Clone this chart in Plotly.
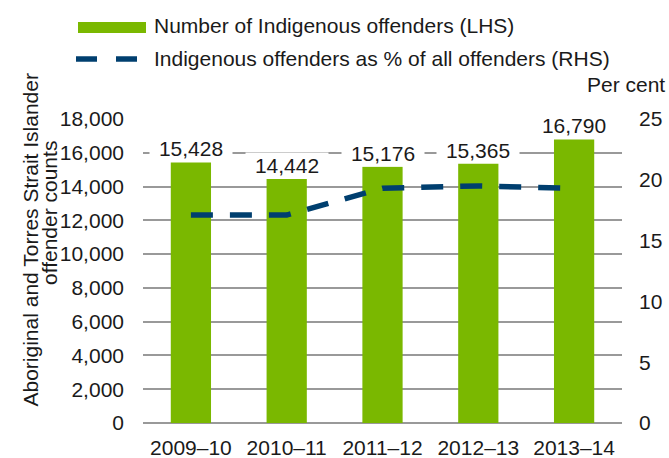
import plotly.graph_objects as go

# Data
years = ["2009–10", "2010–11", "2011–12", "2012–13", "2013–14"]
offenders = [15428, 14442, 15176, 15365, 16790]
pct_of_all = [17.1, 17.1, 19.3, 19.5, 19.3]
left_ticks = [0, 2000, 4000, 6000, 8000, 10000, 12000, 14000, 16000, 18000]
right_ticks = [0, 5, 10, 15, 20, 25]

GREEN = "#7AB800"
NAVY = "#003F6F"
GRID = "#999999"
TEXT = "#1A1A1A"
FONT = "Liberation Sans, Arial, sans-serif"
FS = 21

W, H = 669, 458
ML, MR, MT, MB = 143, 47, 119, 35
PW, PH = W - ML - MR, H - MT - MB


def px(x):
    return (x - ML) / PW


def py(y):
    return (H - MB - y) / PH


fig = go.Figure()

fig.add_trace(go.Bar(
    x=years, y=offenders, marker=dict(color=GREEN, line=dict(width=0)),
    name="Number of Indigenous offenders (LHS)", yaxis="y",
    hoverinfo="skip",
))

fig.add_trace(go.Scatter(
    x=years, y=pct_of_all, mode="lines", yaxis="y2",
    line=dict(color=NAVY, width=5.5, dash="22px,17px"),
    name="Indigenous offenders as % of all offenders (RHS)",
    hoverinfo="skip",
))

# Value labels above the bars, on a white box that breaks the gridlines
annotations = []
for yr, v in zip(years, offenders):
    annotations.append(dict(
        x=yr, y=v, xref="x", yref="y", text=f"{v:,}", showarrow=False,
        yanchor="bottom", xanchor="center", bgcolor="white", width=80,
        borderpad=1, font=dict(family=FONT, size=FS, color=TEXT),
    ))

# Rotated left-axis title (two lines)
annotations.append(dict(
    x=px(30), y=py(72), xref="paper", yref="paper",
    text="Aboriginal and Torres Strait Islander", textangle=-90,
    showarrow=False, xanchor="center", yanchor="top",
    font=dict(family=FONT, size=FS, color=TEXT),
))
annotations.append(dict(
    x=px(49), y=py(139), xref="paper", yref="paper",
    text="offender counts", textangle=-90,
    showarrow=False, xanchor="center", yanchor="top",
    font=dict(family=FONT, size=FS, color=TEXT),
))

# Right-axis unit
annotations.append(dict(
    x=px(626), y=py(84), xref="paper", yref="paper", text="Per cent",
    showarrow=False, xanchor="center", yanchor="middle",
    font=dict(family=FONT, size=FS, color=TEXT),
))

# Legend text
annotations.append(dict(
    x=px(152), y=py(26), xref="paper", yref="paper",
    text="Number of Indigenous offenders (LHS)", showarrow=False,
    xanchor="left", yanchor="middle",
    font=dict(family=FONT, size=FS, color=TEXT),
))
annotations.append(dict(
    x=px(152), y=py(59), xref="paper", yref="paper",
    text="Indigenous offenders as % of all offenders (RHS)", showarrow=False,
    xanchor="left", yanchor="middle",
    font=dict(family=FONT, size=FS, color=TEXT),
))

# Legend keys
shapes = [
    dict(type="rect", xref="paper", yref="paper",
         x0=px(78), x1=px(146), y0=py(33), y1=py(22),
         fillcolor=GREEN, line=dict(width=0)),
    dict(type="line", xref="paper", yref="paper",
         x0=px(76), x1=px(97), y0=py(59), y1=py(59),
         line=dict(color=NAVY, width=5.5)),
    dict(type="line", xref="paper", yref="paper",
         x0=px(116), x1=px(137), y0=py(59), y1=py(59),
         line=dict(color=NAVY, width=5.5)),
]

fig.update_layout(
    width=W, height=H,
    margin=dict(l=ML, r=MR, t=MT, b=MB, autoexpand=False),
    paper_bgcolor="white", plot_bgcolor="white",
    showlegend=False, bargap=0.58,
    font=dict(family=FONT, size=FS, color=TEXT),
    xaxis=dict(
        type="category", showgrid=False, showline=False, ticks="",
        ticklabelstandoff=10, tickfont=dict(size=FS, color=TEXT),
    ),
    yaxis=dict(
        range=[0, 18000], tickvals=left_ticks,
        ticktext=[f"{t:,}" for t in left_ticks],
        showgrid=True, gridcolor=GRID, gridwidth=1.5,
        zeroline=True, zerolinecolor=GRID, zerolinewidth=1.5,
        showline=False, ticks="", ticklabelstandoff=18,
        tickfont=dict(size=FS, color=TEXT),
    ),
    yaxis2=dict(
        range=[0, 25], tickvals=right_ticks, overlaying="y", side="right",
        showgrid=False, zeroline=False, showline=False, ticks="",
        ticklabelstandoff=16, tickfont=dict(size=FS, color=TEXT),
    ),
    annotations=annotations,
    shapes=shapes,
)

fig.write_html("out.html")
